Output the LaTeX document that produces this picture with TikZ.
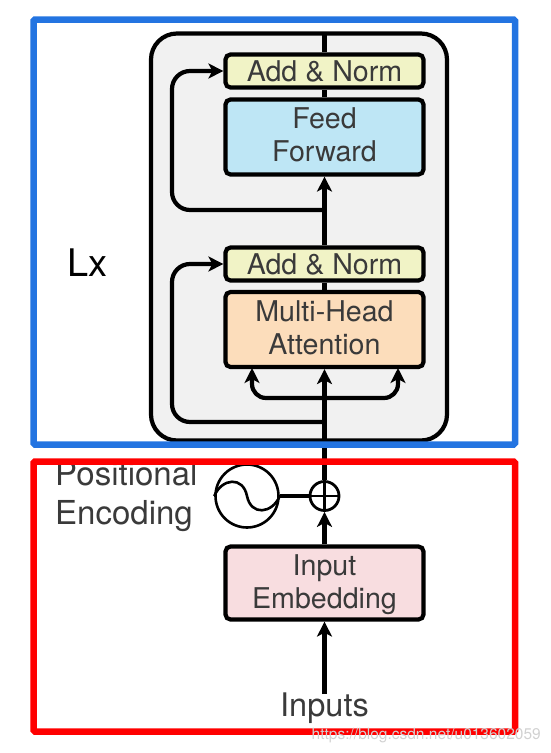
\documentclass[tikz,border=0pt]{standalone}
\usepackage{fontspec}
\setmainfont{TeX Gyre Heros}
\usepackage{xcolor}
\usetikzlibrary{arrows.meta}
\definecolor{panelgray}{HTML}{F1F1F1}
\definecolor{normyellow}{HTML}{F1F3C6}
\definecolor{feedblue}{HTML}{BEE6F5}
\definecolor{attnorange}{HTML}{FCDDBB}
\definecolor{embedpink}{HTML}{F8DDE0}
\definecolor{labelgray}{HTML}{3A3A3A}
\definecolor{frameblue}{HTML}{2374E1}
\tikzset{
	block/.style={draw=black, line width=4.2pt, rounded corners=5pt, minimum width=198pt, inner sep=0pt, align=center, text=labelgray, font=\fontsize{28.6}{33}\selectfont},
	blocktext/.style={inner sep=0pt, align=center, text=labelgray, font=\fontsize{28.6}{33}\selectfont},
	flow/.style={line width=4.2pt, line join=round},
	flowtip/.style={flow, -{Stealth[length=15pt,width=15pt,inset=4pt]}},
	frame/.style={line width=6.5pt, rounded corners=1.5pt},
	caption/.style={text=labelgray, inner sep=0pt, align=left, font=\fontsize{33}{39}\selectfont}
}

\begin{document}
\begin{tikzpicture}[x=1pt,y=-1pt]
		\useasboundingbox (0,0) rectangle (551,753);
		
		\node[draw=black, line width=4.2pt, rounded corners=26pt, fill=panelgray, minimum width=296pt, minimum height=407pt, inner sep=0pt] (panel) at (299,237) {};
		
		\node[block, fill=normyellow, minimum height=33pt] (normtop) at (324.5,71) {Add \& Norm};
		\node[block, fill=feedblue, minimum height=75pt, label={[blocktext,yshift=2pt]center:Feed\\Forward}] (feed) at (324.5,137) {};
		\node[block, fill=normyellow, minimum height=33pt] (normlow) at (324.5,264) {Add \& Norm};
		\node[block, fill=attnorange, minimum height=75pt, label={[blocktext,yshift=2pt]center:Multi-Head\\Attention}] (attn) at (324.5,329.5) {};
		\node[block, fill=embedpink, minimum height=73pt, label={[blocktext,yshift=-2pt]center:Input\\Embedding}] (embed) at (324.5,583) {};
		
		\node[draw=black, line width=2.8pt, circle, minimum size=29pt, inner sep=0pt] (plus) at (324.5,496) {};
		\node[draw=black, line width=2.6pt, circle, minimum size=63pt, inner sep=0pt] (wave) at (247,496) {};
		\node[inner sep=0pt, text=labelgray, font=\fontsize{32.5}{39}\selectfont] (inputs) at (324.5,708.5) {Inputs};
		\node[caption, anchor=west] (poslabel) at (55,496.5) {Positional\\Encoding};
		\node[inner sep=0pt, anchor=west, font=\fontsize{38}{40}\selectfont] (lx) at (67,263) {Lx};
		
		\coordinate (paneltop) at (324.5,33);
		\coordinate (branchtop) at (324.5,210);
		\coordinate (branchlow) at (324.5,422);
		\coordinate (fork) at (324.5,398);
		\coordinate (inputstart) at (324.5,694);
		
		% main line
		\draw [flow] (normtop.north) -- (paneltop);
		\draw [flow] (feed.north) -- (normtop.south);
		\draw [flowtip] (normlow.north) -- (feed.south);
		\draw [flow] (attn.north) -- (normlow.south);
		\draw [flowtip] (plus.north) -- (attn.south);
		\draw [flowtip] (embed.north) -- (plus.south);
		\draw [flowtip] (inputstart) -- (embed.south);
		\draw [flow] (wave.east) -- (plus.west);
		
		% residual lines
		\draw [flowtip, rounded corners=18pt] (branchtop) -| (172,71) -- (normtop.west);
		\draw [flowtip, rounded corners=18pt] (branchlow) -| (172,264) -- (normlow.west);
		\draw [flowtip, rounded corners=14pt] (fork) -| (252,368);
		\draw [flowtip, rounded corners=14pt] (fork) -| (398,368);
		
		% plus sign and sine curve
		\draw [line width=2.4pt] (plus.west) -- (plus.east);
		\draw [line width=2.4pt] (plus.north) -- (plus.south);
		\draw [line width=2.6pt] (wave.west) .. controls (222,478) and (243,476) .. (247,496) .. controls (251,516) and (272,514) .. (wave.east);
		
		% frames
		\draw [frame, draw=frameblue] (33.5,19.5) rectangle (515,444.5);
		\draw [frame, draw=red] (33.5,461.5) rectangle (515,731.5);
		
		\node[inner sep=0pt, anchor=east, text=black!18, font=\fontsize{15.5}{18}\selectfont] (mark) at (541,736) {https://blog.csdn.net/u013602059};
	\end{tikzpicture}
\end{document}
